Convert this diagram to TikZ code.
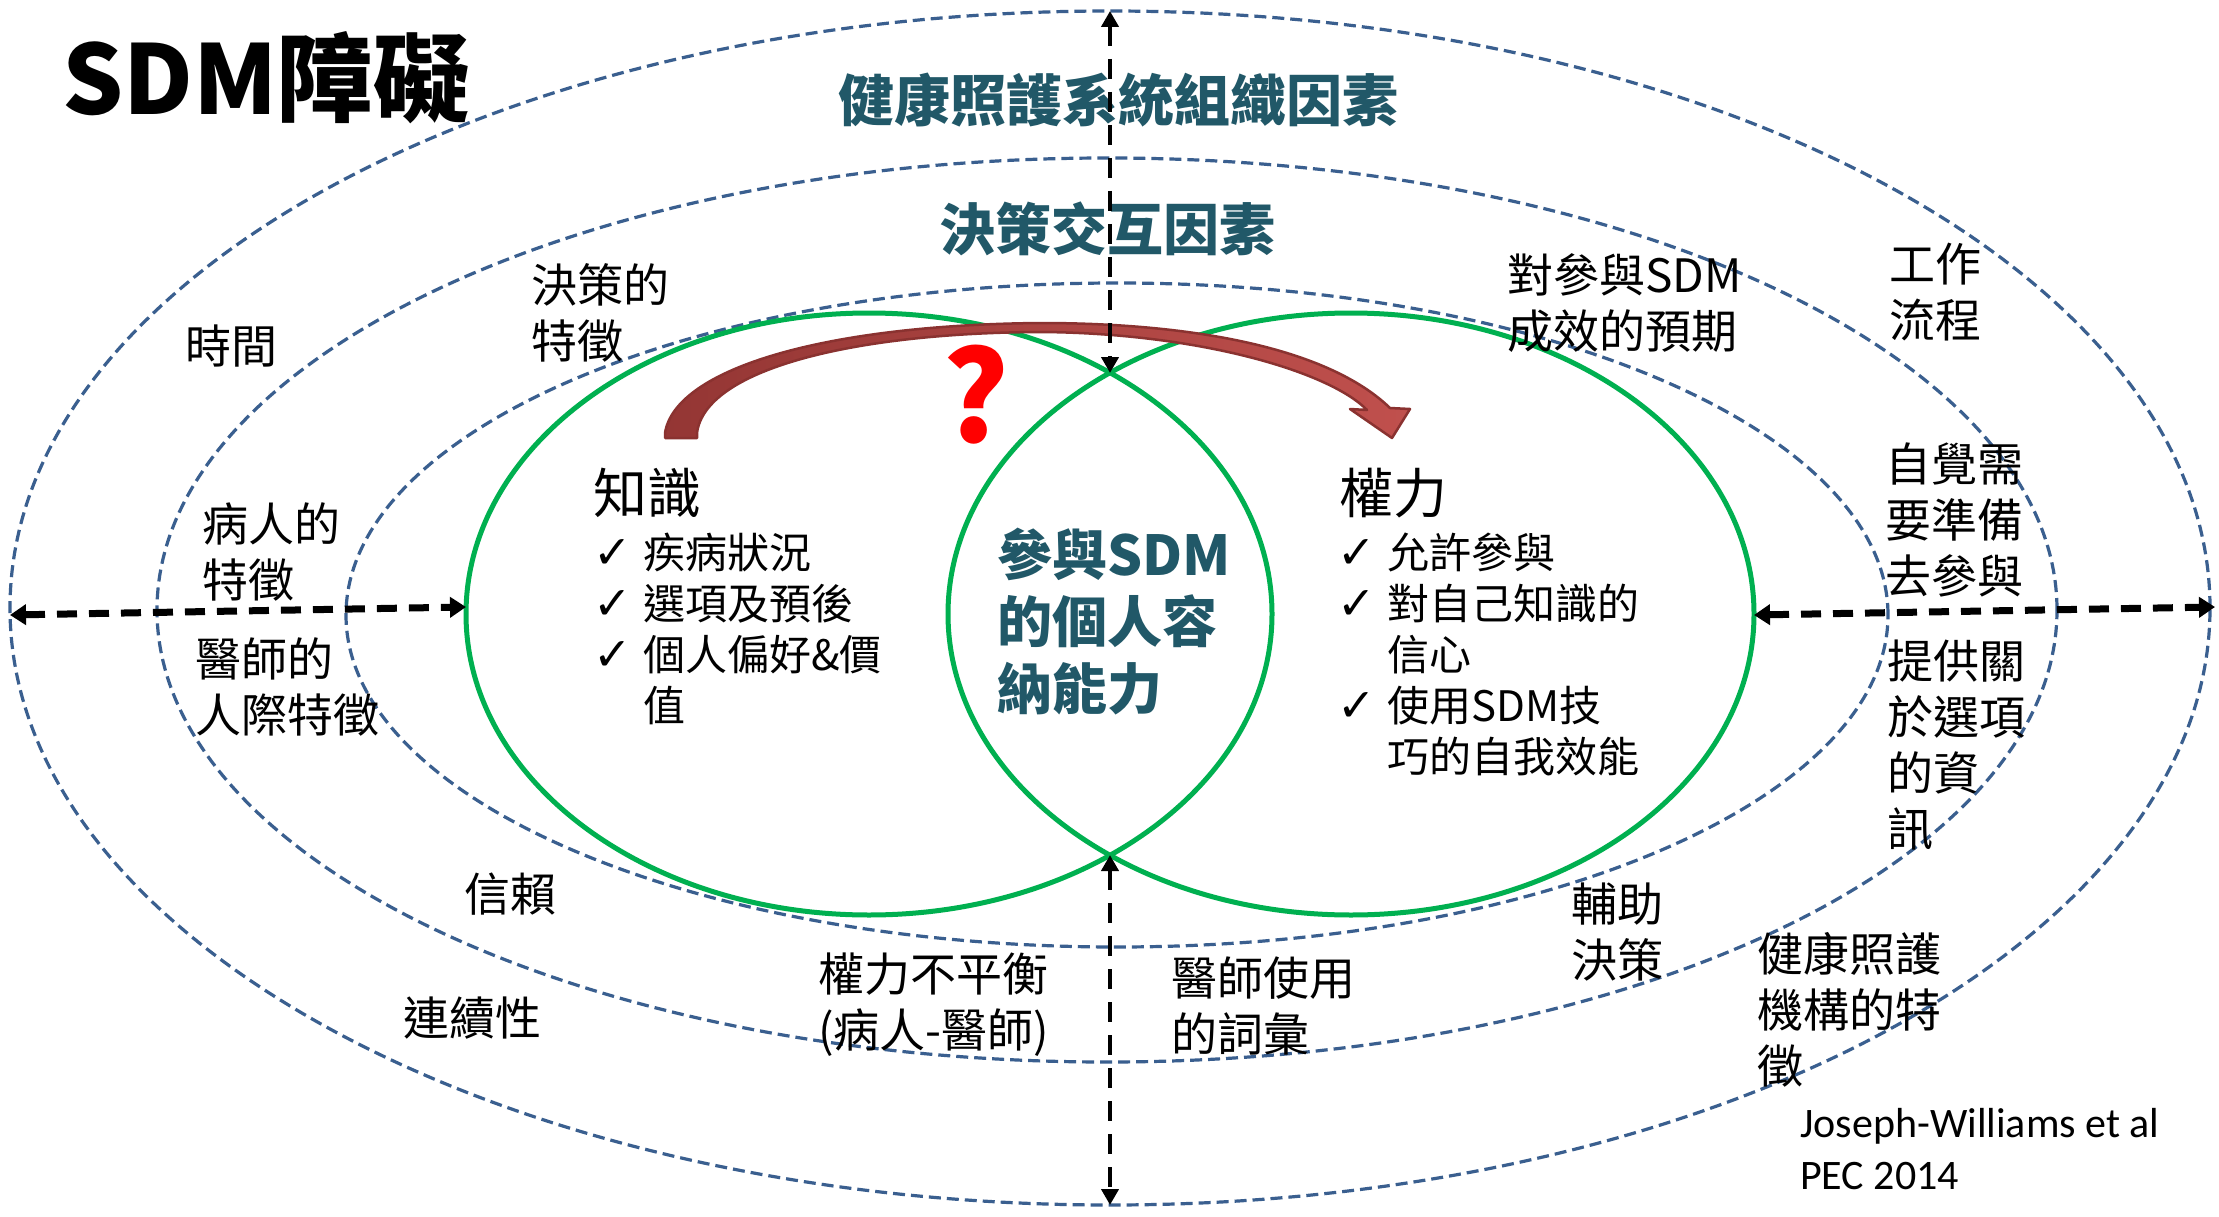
\documentclass[tikz,border=0pt]{standalone}
\usepackage{fontspec}
\setmainfont{Noto Sans CJK TC}
\newfontfamily\symfont{DejaVu Sans}
\newfontfamily\citefont{Carlito}
\usetikzlibrary{shapes.geometric,arrows.meta}
\definecolor{ringblue}{HTML}{3A5F8F}
\definecolor{vgreen}{HTML}{00B050}
\definecolor{tealtxt}{HTML}{215868}
\definecolor{arrdark}{HTML}{943634}
\definecolor{arrlight}{HTML}{C0504D}
\definecolor{arrline}{HTML}{8A3230}
\newcommand{\mychk}{\makebox[50pt][l]{\symfont\fontsize{46}{46}\selectfont ✓}}
\begin{document}
\begin{tikzpicture}[x=1pt,y=-1pt,
  ring/.style={ellipse, draw=ringblue, line width=3.2pt, dash pattern=on 12pt off 6pt, inner sep=0pt, outer sep=0pt},
  venn/.style={ellipse, draw=vgreen, line width=5pt, inner sep=0pt, outer sep=0pt},
  lbl/.style={anchor=north west, inner sep=0pt, align=left, font=\fontsize{46}{56}\selectfont},
  lst/.style={anchor=north west, inner sep=0pt, align=left, font=\fontsize{42}{51}\selectfont},
  head/.style={anchor=north west, inner sep=0pt, font=\fontsize{54}{54}\selectfont},
  tealhead/.style={inner sep=0pt, text=tealtxt, font=\fontsize{56}{56}\selectfont\bfseries},
  hdash/.style={line width=7pt, dash pattern=on 20pt off 12pt, {Triangle[length=16pt,width=20pt]}-{Triangle[length=16pt,width=20pt]}},
  vdash/.style={line width=4pt, dash pattern=on 20pt off 13pt, {Triangle[length=16pt,width=17pt]}-{Triangle[length=16pt,width=17pt]}}
]
\useasboundingbox (0,0) rectangle (2219,1217);
\fill[white] (0,0) rectangle (2219,1217);

% rings
\node[ring, minimum width=2200pt, minimum height=1194pt] (outer) at (1110,608) {};
\node[ring, minimum width=1900pt, minimum height=904pt] (middle) at (1107,610) {};
\node[ring, minimum width=1542pt, minimum height=664pt] (inner) at (1117,615) {};

% venn circles
\node[venn, minimum width=806pt, minimum height=602pt] (lvenn) at (869,614) {};
\node[venn, minimum width=806pt, minimum height=602pt] (rvenn) at (1351,614) {};
\coordinate (xtop) at (1110,373);
\coordinate (xbot) at (1110,855);

% title
\node[anchor=north west, inner sep=0pt, font=\fontsize{96}{96}\selectfont\bfseries] (title) at (62,31) {SDM障礙};

% teal headings
\node[tealhead, anchor=north] (sysf) at (1118,73) {健康照護系統組織因素};
\node[tealhead, anchor=north] (intf) at (1107,202) {決策交互因素};
\node[tealhead, anchor=north west, align=left, font=\fontsize{55}{67}\selectfont\bfseries] (cap) at (997,528) {參與SDM\\的個人容\\納能力};

% outer labels
\node[lbl] (time) at (185,325) {時間};
\node[lbl] (decchar) at (531,263) {決策的\\特徵};
\node[lbl] (patient) at (202,502) {病人的\\特徵};
\node[lbl] (doctor) at (195,637) {醫師的\\人際特徵};
\node[lbl] (work) at (1889,243) {工作\\流程};
\node[lbl] (expect) at (1507,253) {對參與SDM\\成效的預期};
\node[lbl] (aware) at (1885,443) {自覺需\\要準備\\去參與};
\node[lbl] (provide) at (1887,640) {提供關\\於選項\\的資\\訊};
\node[lbl] (trust) at (464,873) {信賴};
\node[lbl] (contin) at (403,997) {連續性};
\node[lbl] (imbal) at (818,953) {權力不平衡\\(病人-醫師)};
\node[lbl] (vocab) at (1171,957) {醫師使用\\的詞彙};
\node[lbl] (decaid) at (1571,883) {輔助\\決策};
\node[lbl] (inst) at (1757,932) {健康照護\\機構的特\\徵};
\node[anchor=north west, inner sep=0pt, align=left, font=\citefont\fontsize{42}{52}\selectfont] (cite) at (1800,1108) {Joseph-Williams et al\\PEC 2014};

% knowledge / power
\node[head] (know) at (593,468) {知識};
\node[lst] (klist) at (593,533) {\mychk 疾病狀況\\\mychk 選項及預後\\\mychk 個人偏好\&價\\\hspace*{50pt}值};
\node[head] (power) at (1339,468) {權力};
\node[lst] (plist) at (1337,533) {\mychk 允許參與\\\mychk 對自己知識的\\\hspace*{50pt}信心\\\mychk 使用SDM技\\\hspace*{50pt}巧的自我效能};

% curved ribbon arrow
\path[draw=arrline, line width=2.5pt, line join=round, left color=arrdark, middle color=arrdark, right color=arrlight]
  (665,438) -- (665,433) .. controls (675,370) and (820,325) .. (1040,323)
  .. controls (1200,323) and (1330,350) .. (1390,408)
  -- (1410,409) -- (1392,438) -- (1350,409) -- (1367,410)
  .. controls (1330,372) and (1200,333) .. (1040,332)
  .. controls (850,333) and (705,370) .. (697,433) -- (697,438) -- cycle;
\node[anchor=north west, inner sep=0pt, text=red, font=\fontsize{125}{125}\selectfont\bfseries] (qm) at (942,345) {?};

% dashed arrows
\draw[vdash] (outer.north) -- (xtop);
\draw[vdash] (xbot) -- (outer.south);
\draw[hdash] ([yshift=-7pt]outer.west) -- ([yshift=7pt]lvenn.west);
\draw[hdash] ([yshift=-1pt]rvenn.east) -- ([yshift=1pt,xshift=5pt]outer.east);
\end{tikzpicture}
\end{document}
